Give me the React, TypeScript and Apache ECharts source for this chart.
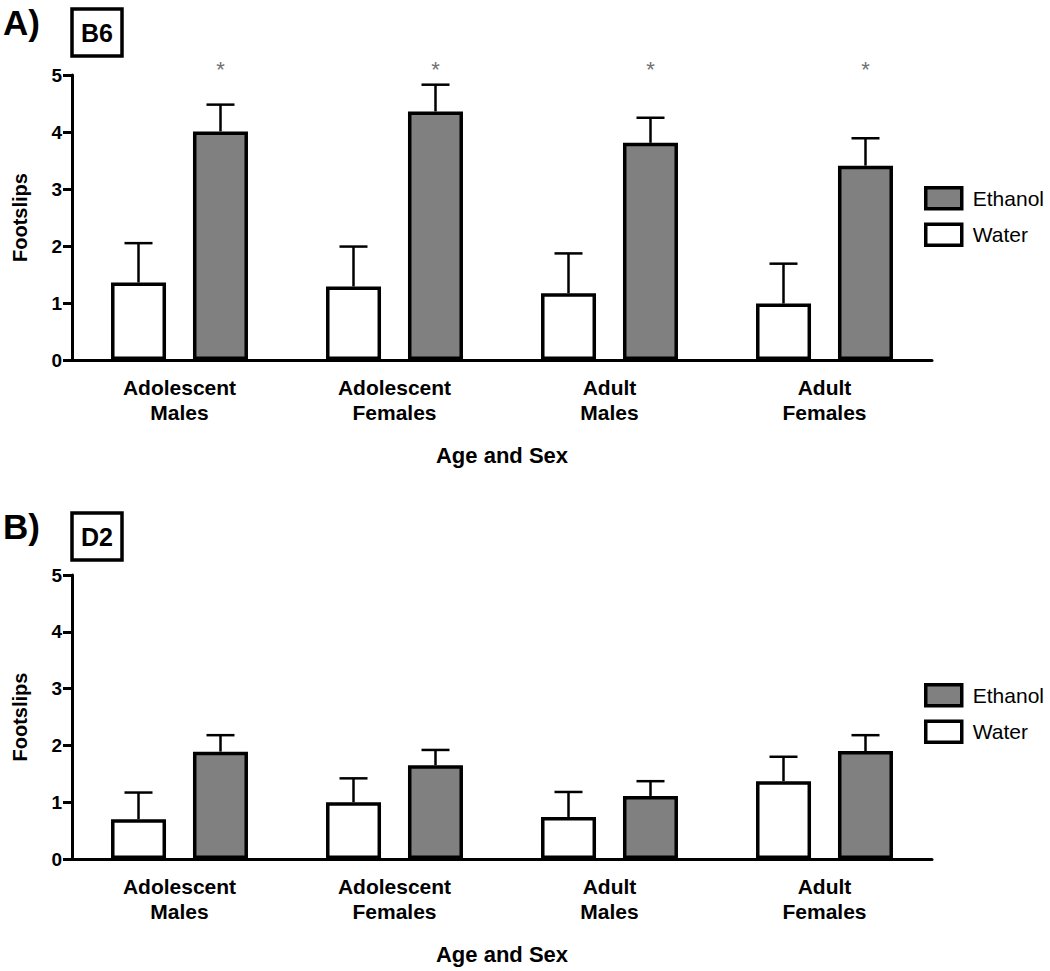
import React, { useEffect, useRef } from "react";
import * as echarts from "echarts";

const categories = ["Adolescent\nMales", "Adolescent\nFemales", "Adult\nMales", "Adult\nFemales"];
const yTicks = [0, 1, 2, 3, 4, 5];

// Panel A (B6)
const waterA = [1.36, 1.29, 1.17, 0.99];
const waterSemA = [0.69, 0.70, 0.70, 0.70];
const ethanolA = [4.01, 4.36, 3.81, 3.41];
const ethanolSemA = [0.47, 0.47, 0.44, 0.48];
const starsA = ["*", "*", "*", "*"];

// Panel B (D2)
const waterB = [0.70, 1.00, 0.74, 1.37];
const waterSemB = [0.47, 0.42, 0.44, 0.43];
const ethanolB = [1.89, 1.65, 1.11, 1.90];
const ethanolSemB = [0.29, 0.27, 0.26, 0.28];
const starsB = ["", "", "", ""];

const FONT = "'Liberation Sans', Arial, sans-serif";

function errSeries(idx: number, means: number[], sems: number[], offset: number) {
  return {
    type: "custom",
    name: "err" + idx + offset,
    xAxisIndex: idx,
    yAxisIndex: idx,
    z: 1,
    silent: true,
    data: means.map((m, i) => [i, m, m + sems[i]]),
    renderItem: (params: any, api: any) => {
      const cat = api.value(0);
      const base = api.coord([cat, api.value(1)]);
      const top = api.coord([cat, api.value(2)]);
      const x = base[0] + offset;
      const st = { stroke: "#000", lineWidth: 2.5 };
      return {
        type: "group",
        children: [
          { type: "line", shape: { x1: x, y1: base[1], x2: x, y2: top[1] }, style: st },
          { type: "line", shape: { x1: x - 14, y1: top[1], x2: x + 14, y2: top[1] }, style: st },
        ],
      };
    },
  };
}

function starSeries(idx: number, stars: string[], offset: number) {
  return {
    type: "custom",
    name: "stars" + idx,
    xAxisIndex: idx,
    yAxisIndex: idx,
    silent: true,
    clip: false,
    data: stars.map((_, i) => [i, 5.1]),
    renderItem: (params: any, api: any) => {
      const p = api.coord([api.value(0), api.value(1)]);
      return {
        type: "text",
        x: p[0] + offset,
        y: p[1],
        style: {
          text: stars[params.dataIndex],
          fill: "#707070",
          font: "22px " + FONT,
          align: "center",
          verticalAlign: "middle",
        },
      };
    },
  };
}

function axesFor(idx: number) {
  const x = {
    type: "category",
    gridIndex: idx,
    data: categories,
    axisLine: { lineStyle: { color: "#000", width: 3 } },
    axisTick: { alignWithLabel: true, length: 10, lineStyle: { color: "#000", width: 3 } },
    axisLabel: {
      color: "#000",
      fontFamily: FONT,
      fontWeight: "bold",
      fontSize: 21,
      lineHeight: 25,
      margin: 15,
      interval: 0,
    },
    name: "Age and Sex",
    nameLocation: "middle",
    nameGap: 84,
    nameTextStyle: { color: "#000", fontFamily: FONT, fontWeight: "bold", fontSize: 22 },
  };
  const y = {
    type: "value",
    gridIndex: idx,
    min: yTicks[0],
    max: yTicks[yTicks.length - 1],
    interval: 1,
    axisLine: { show: true, lineStyle: { color: "#000", width: 3 } },
    axisTick: { show: true, length: 9, lineStyle: { color: "#000", width: 3 } },
    splitLine: { show: false },
    axisLabel: { color: "#000", fontFamily: FONT, fontWeight: "bold", fontSize: 19, margin: 10 },
    name: "Footslips",
    nameLocation: "middle",
    nameGap: 42,
    nameTextStyle: { color: "#000", fontFamily: FONT, fontWeight: "bold", fontSize: 20 },
  };
  return { x, y };
}

function barSeries(idx: number, water: number[], ethanol: number[]) {
  const common = {
    type: "bar",
    xAxisIndex: idx,
    yAxisIndex: idx,
    barWidth: 55,
    barGap: "49%",
    z: 2,
  };
  return [
    { ...common, name: "Water", data: water, itemStyle: { color: "#ffffff", borderColor: "#000", borderWidth: 3.5 } },
    { ...common, name: "Ethanol", data: ethanol, itemStyle: { color: "#808080", borderColor: "#000", borderWidth: 3.5 } },
  ];
}

function legendAt(top: number) {
  return {
    orient: "vertical",
    left: 919,
    top,
    data: ["Ethanol", "Water"],
    icon: "rect",
    itemWidth: 36,
    itemHeight: 21,
    itemGap: 12,
    itemStyle: { borderColor: "#000", borderWidth: 3.5 },
    selectedMode: false,
    textStyle: { color: "#000", fontFamily: FONT, fontSize: 21, padding: [0, 0, 0, 6] },
  };
}

function panelGraphics(top: number, letter: string, strain: string) {
  return [
    {
      type: "text",
      left: 3,
      top: top - 3,
      style: { text: letter, font: "bold 35px " + FONT, fill: "#000" },
    },
    {
      type: "rect",
      shape: { x: 72, y: top + 1, width: 50, height: 47 },
      style: { fill: "#fff", stroke: "#000", lineWidth: 3.5 },
    },
    {
      type: "text",
      x: 97,
      y: top + 25,
      style: { text: strain, font: "bold 25px " + FONT, fill: "#000", align: "center", verticalAlign: "middle" },
    },
  ];
}

export default function App() {
  const ref = useRef<HTMLDivElement>(null);
  useEffect(() => {
    document.body.style.margin = "0";
    const chart = echarts.init(ref.current!, null, { renderer: "svg" });
    const a = axesFor(0);
    const b = axesFor(1);
    chart.setOption({
      animation: false,
      backgroundColor: "#fff",
      grid: [
        { left: 72, top: 75, width: 860, height: 285 },
        { left: 72, top: 575, width: 860, height: 284 },
      ],
      xAxis: [a.x, b.x],
      yAxis: [a.y, b.y],
      legend: [legendAt(181), legendAt(678)],
      series: [
        ...barSeries(0, waterA, ethanolA),
        errSeries(0, waterA, waterSemA, -41),
        errSeries(0, ethanolA, ethanolSemA, 41),
        starSeries(0, starsA, 41),
        ...barSeries(1, waterB, ethanolB),
        errSeries(1, waterB, waterSemB, -41),
        errSeries(1, ethanolB, ethanolSemB, 41),
        starSeries(1, starsB, 41),
      ],
      graphic: [...panelGraphics(8, "A)", "B6"), ...panelGraphics(512, "B)", "D2")],
    });
    return () => chart.dispose();
  }, []);
  return <div ref={ref} style={{ width: 1050, height: 971 }} />;
}
